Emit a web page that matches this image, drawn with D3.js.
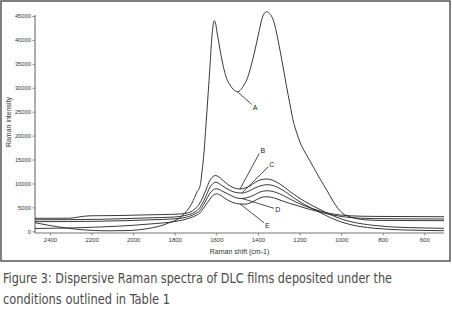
<!DOCTYPE html>
<html><head><meta charset="utf-8">
<script src="https://cdn.jsdelivr.net/npm/d3@7/dist/d3.min.js"></script>
<style>
html,body{margin:0;padding:0;background:#fff;}
svg{display:block;}
.sans{font-family:"Liberation Sans", Arial, Helvetica, sans-serif;}
.caption{font-family:"Liberation Sans Narrow", "Arial Narrow", "DejaVu Sans Condensed", "Liberation Sans", sans-serif;}
</style></head><body>
<svg id="chart" width="452" height="323"></svg>
<script>
// Axis ticks
const xTicks = [2400, 2200, 2000, 1800, 1600, 1400, 1200, 1000, 800, 600];
const yTicks = [0, 5000, 10000, 15000, 20000, 25000, 30000, 35000, 40000, 45000];

// Spectra: [Raman shift (cm-1), intensity]
const spectrumA = [[2472,1800],[2400,1200],[2304,590],[2207,210],[2111,100],[2015,170],[1943,480],[1871,1100],[1823,1840],[1784,2570],[1751,3820],[1717,5900],[1693,8200],[1678,9500],[1669,12400],[1659,16600],[1650,22000],[1640,28300],[1630,34760],[1621,40800],[1616,42900],[1611,44000],[1604,43540],[1597,41660],[1590,39980],[1582,37890],[1566,34400],[1553,32250],[1534,30580],[1515,29530],[1499,29180],[1481,29640],[1467,30580],[1454,31620],[1433,34550],[1414,37890],[1397,41240],[1382,44160],[1371,45420],[1358,45900],[1344,45520],[1326,44160],[1310,41450],[1294,37890],[1278,34130],[1262,30220],[1246,26610],[1230,23050],[1213,20550],[1198,18670],[1166,15950],[1134,13500],[1101,10930],[1069,8630],[1039,6330],[1015,4770],[991,3720],[962,3090],[928,2680],[885,2400],[813,2280],[505,2215]];
const spectrumB = [[2472,2720],[2400,2720],[2304,2740],[2256,3030],[2208,3240],[2063,3300],[1919,3450],[1799,3570],[1751,3720],[1703,4660],[1679,5920],[1654,8210],[1630,10720],[1616,11450],[1604,11660],[1587,11350],[1573,10830],[1553,10100],[1534,9470],[1505,8950],[1486,8840],[1462,9050],[1438,9470],[1414,10200],[1390,10720],[1356,10930],[1327,10620],[1294,9890],[1246,8320],[1212,7270],[1174,6230],[1140,5390],[1101,4560],[1053,3510],[1005,2680],[957,2050],[909,1630],[837,1210],[765,940],[669,770],[505,630]];
const spectrumC = [[2472,2400],[2159,2510],[1919,2820],[1799,2990],[1751,3300],[1703,4030],[1679,4970],[1654,6960],[1630,9260],[1616,9990],[1602,10240],[1587,9990],[1573,9570],[1534,8530],[1505,8110],[1477,8000],[1448,8320],[1414,9050],[1390,9470],[1356,9740],[1327,9570],[1294,8950],[1246,7590],[1212,6540],[1174,5560],[1140,4770],[1101,3930],[1053,2880],[1005,2050],[957,1420],[909,1000],[837,630],[765,400],[669,250],[505,125]];
const spectrumD = [[2472,2010],[2159,2110],[1919,2400],[1799,2610],[1751,2880],[1703,3620],[1679,4350],[1654,6120],[1630,8000],[1616,8630],[1602,8900],[1587,8740],[1573,8420],[1534,7590],[1505,7000],[1477,6860],[1448,7070],[1414,7690],[1390,8210],[1356,8470],[1327,8320],[1294,7800],[1246,6750],[1212,6020],[1174,5290],[1140,4770],[1101,4240],[1053,3720],[1005,3410],[957,3240],[909,3160],[837,3110],[505,3050]];
const spectrumE = [[2472,590],[2304,690],[2159,900],[2015,1210],[1919,1530],[1799,2050],[1751,2470],[1703,3200],[1679,3830],[1654,5290],[1630,6750],[1616,7480],[1598,7840],[1582,7590],[1558,6860],[1520,6020],[1486,5710],[1462,5660],[1438,5920],[1414,6440],[1390,6960],[1366,7210],[1342,7170],[1308,6750],[1246,5810],[1212,5390],[1174,4870],[1140,4450],[1101,4030],[1053,3510],[1005,3140],[957,2880],[909,2740],[837,2650],[505,2570]];

const seriesNames = ["A", "B", "C", "D", "E"];
const seriesData = [spectrumA, spectrumB, spectrumC, spectrumD, spectrumE];
// Raman shift on each curve where its letter's leader line starts
const labelShift = [1499, 1486, 1477, 1477, 1486];

const captionLines = [
  "Figure 3: Dispersive Raman spectra of DLC films deposited under the",
  "conditions outlined in Table 1"
];

const svg = d3.select("#chart");
const plot = {left: 35, right: 444, top: 16, zero: 231.3, axisY: 233};

const x = d3.scaleLinear().domain([2472, 505]).range([plot.left, plot.right]);
const y = d3.scaleLinear().domain([0, 45000]).range([plot.zero, plot.top]);

// outer frame
svg.append("rect").attr("x", 1).attr("y", 1).attr("width", 449).attr("height", 260)
  .attr("fill", "none").attr("stroke", "#4a4a4a").attr("stroke-width", 1.4);

// y axis
const gy = svg.append("g").attr("transform", `translate(${plot.left},0)`)
  .call(d3.axisLeft(y).tickValues(yTicks).tickFormat(d3.format("d"))
    .tickSize(2.5).tickSizeOuter(0).tickPadding(1.5));
gy.attr("font-family", null);
gy.select(".domain").remove();
gy.selectAll(".tick line").attr("stroke", "#666").attr("stroke-width", 0.8);
gy.selectAll(".tick text").attr("class", "sans").attr("font-size", 5.8).attr("fill", "#333");

// x axis
const gx = svg.append("g").attr("transform", `translate(0,${plot.axisY})`)
  .call(d3.axisBottom(x).tickValues(xTicks).tickFormat(d3.format("d"))
    .tickSize(2.5).tickSizeOuter(0).tickPadding(2));
gx.attr("font-family", null);
gx.select(".domain").remove();
gx.selectAll(".tick line").attr("stroke", "#666").attr("stroke-width", 0.8);
gx.selectAll(".tick text").attr("class", "sans").attr("font-size", 6).attr("fill", "#333");

// axis lines
svg.append("line").attr("x1", plot.left).attr("x2", plot.left).attr("y1", 15).attr("y2", plot.axisY)
  .attr("stroke", "#777").attr("stroke-width", 1.2);
svg.append("line").attr("x1", plot.left).attr("x2", plot.right).attr("y1", plot.axisY).attr("y2", plot.axisY)
  .attr("stroke", "#777").attr("stroke-width", 1.2);

// axis titles
svg.append("text").attr("class", "sans").attr("x", (plot.left + plot.right) / 2).attr("y", 254)
  .attr("text-anchor", "middle").attr("font-size", 7)
  .attr("fill", "#333").text("Raman shift (cm-1)");
svg.append("text").attr("class", "sans").attr("transform", "translate(11,122) rotate(-90)")
  .attr("text-anchor", "middle").attr("font-size", 7)
  .attr("fill", "#333").text("Raman intensity");

// spectra
const line = d3.line().x(d => x(d[0])).y(d => y(d[1])).curve(d3.curveMonotoneX);
svg.append("g").selectAll("path").data(seriesData).join("path")
  .attr("d", line).attr("fill", "none").attr("stroke", "#222").attr("stroke-width", 0.9);

// curve letters with leader lines: [leader end dx, dy, label dx, dy]
const leaderOffsets = [[14.4, 12.6, 17.7, 15.6], [19.3, -35.7, 22.7, -38.3], [26.4, -26.3, 29.8, -28],
                       [32.1, 9.8, 35.8, 10.8], [24, 18.7, 27.3, 21.7]];
const ann = svg.append("g");
seriesNames.forEach((name, i) => {
  const pt = seriesData[i].find(d => d[0] === labelShift[i]);
  const px = x(pt[0]), py = y(pt[1]);
  const o = leaderOffsets[i];
  ann.append("line").attr("x1", px).attr("y1", py).attr("x2", px + o[0]).attr("y2", py + o[1])
    .attr("stroke", "#222").attr("stroke-width", 0.8);
  ann.append("text").attr("class", "sans").attr("x", px + o[2]).attr("y", py + o[3]).attr("dy", "0.35em")
    .attr("text-anchor", "middle").attr("font-size", 7)
    .attr("fill", "#222").text(name);
});

// caption
const capWidths = [389, 167];
captionLines.forEach((t, i) => {
  svg.append("text").attr("class", "caption").attr("x", 3).attr("y", 282.5 + i * 21.5)
    .attr("font-size", 13.6).attr("fill", "#4a4a4a")
    .attr("textLength", capWidths[i]).attr("lengthAdjust", "spacingAndGlyphs")
    .text(t);
});
</script>
</body></html>
